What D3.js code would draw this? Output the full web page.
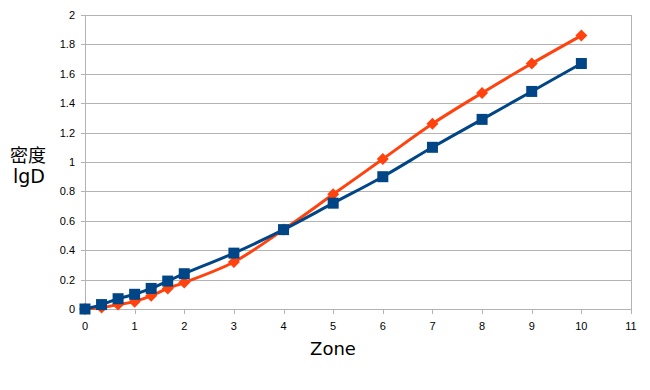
<!DOCTYPE html>
<html><head><meta charset="utf-8">
<script src="https://cdn.jsdelivr.net/npm/d3@7"></script>
<style>body{margin:0;background:#fff}svg{display:block}</style>
</head><body>
<script>
const zones = [0, 1/3, 2/3, 1, 4/3, 5/3, 2, 3, 4, 5, 6, 7, 8, 9, 10];
const seriesBlue = [0, 0.03, 0.07, 0.10, 0.14, 0.19, 0.24, 0.38, 0.54, 0.72, 0.90, 1.10, 1.29, 1.48, 1.67];
const seriesOrange = [0, 0.01, 0.03, 0.05, 0.09, 0.14, 0.18, 0.32, 0.54, 0.78, 1.02, 1.26, 1.47, 1.67, 1.86];
const xTicks = [0,1,2,3,4,5,6,7,8,9,10,11];
const yTicks = [0,0.2,0.4,0.6,0.8,1,1.2,1.4,1.6,1.8,2];

const W = 650, H = 390;
const svg = d3.select("body").append("svg").attr("width", W).attr("height", H);
const x = d3.scaleLinear().domain([0, 11]).range([85, 631]);
const y = d3.scaleLinear().domain([0, 2]).range([309, 15]);
const font = "'Liberation Sans', Arial, sans-serif";
const titleFont = "'DejaVu Sans', sans-serif";

// grid
svg.append("g").selectAll("line").data(yTicks).join("line")
  .attr("x1", x(0) - 4).attr("x2", x(11))
  .attr("y1", d => Math.round(y(d)) + 0.5).attr("y2", d => Math.round(y(d)) + 0.5)
  .attr("stroke", "#b3b3b3").attr("stroke-width", 1);
[0, 11].forEach(v => svg.append("line")
  .attr("x1", Math.round(x(v)) + 0.5).attr("x2", Math.round(x(v)) + 0.5)
  .attr("y1", y(2)).attr("y2", y(0))
  .attr("stroke", "#b3b3b3"));
svg.append("g").selectAll("line").data(xTicks).join("line")
  .attr("x1", d => Math.round(x(d)) + 0.5).attr("x2", d => Math.round(x(d)) + 0.5)
  .attr("y1", y(0)).attr("y2", y(0) + 5)
  .attr("stroke", "#b3b3b3");
svg.append("g").selectAll("text").data(xTicks).join("text")
  .attr("x", d => x(d)).attr("y", y(0) + 21)
  .attr("text-anchor", "middle").attr("font-family", font).attr("font-size", 11)
  .attr("fill", "#000").text(d => d);
svg.append("g").selectAll("text").data(yTicks).join("text")
  .attr("x", x(0) - 10).attr("y", d => y(d) + 4)
  .attr("text-anchor", "end").attr("font-family", font).attr("font-size", 11)
  .attr("fill", "#000").text(d => d3.format("")(+d.toFixed(1)));

// axis titles
svg.append("text").attr("x", 333).attr("y", 355).attr("text-anchor", "middle")
  .attr("font-family", titleFont).attr("font-size", 18).text("Zone");
svg.append("text").attr("x", 28).attr("y", 162).attr("text-anchor", "middle")
  .attr("font-family", "'Noto Sans CJK SC', sans-serif").attr("font-size", 18).text("密度");
svg.append("text").attr("x", 29).attr("y", 183).attr("text-anchor", "middle")
  .attr("font-family", titleFont).attr("font-size", 19).text("lgD");

const line = d3.line().x(d => x(d[0])).y(d => y(d[1])).curve(d3.curveCatmullRom.alpha(0.5));

const orangeData = zones.map((z, i) => [z, seriesOrange[i]]);
const blueData = zones.map((z, i) => [z, seriesBlue[i]]);

svg.append("path").datum(orangeData).attr("d", line).attr("fill", "none")
  .attr("stroke", "#ff420e").attr("stroke-width", 3);
svg.append("g").selectAll("path").data(orangeData).join("path")
  .attr("d", "M0,-6L6,0L0,6L-6,0Z")
  .attr("transform", d => `translate(${x(d[0])},${y(d[1])})`)
  .attr("fill", "#ff420e");

svg.append("path").datum(blueData).attr("d", line).attr("fill", "none")
  .attr("stroke", "#004586").attr("stroke-width", 3);
svg.append("g").selectAll("rect").data(blueData).join("rect")
  .attr("x", d => x(d[0]) - 5.5).attr("y", d => y(d[1]) - 5.5)
  .attr("width", 11).attr("height", 11)
  .attr("fill", "#004586");
</script>
</body></html>
